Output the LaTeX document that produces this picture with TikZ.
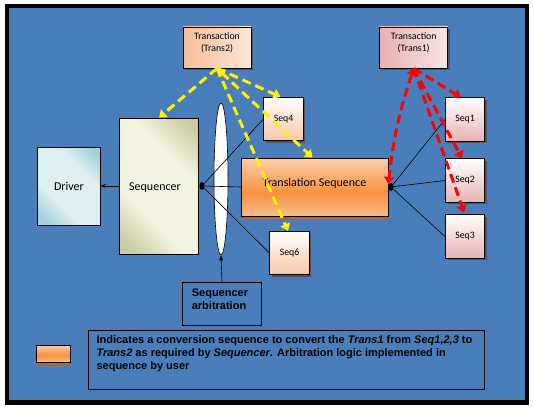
\documentclass[tikz,border=0pt]{standalone}
\usepackage{fontspec}
\setmainfont{Carlito}
\newfontfamily\arialfont{Liberation Sans}
\usetikzlibrary{arrows.meta,shapes.geometric,shadows}

\definecolor{bgblue}{RGB}{74,126,187}
\definecolor{seqlight}{RGB}{242,244,224}
\definecolor{seqdark}{RGB}{204,204,164}
\definecolor{drvlight}{RGB}{221,239,239}
\definecolor{drvdark}{RGB}{166,207,218}
\definecolor{tpeachdark}{RGB}{247,191,155}
\definecolor{tpeachlight}{RGB}{253,230,216}
\definecolor{tpinkdark}{RGB}{234,176,178}
\definecolor{tpinklight}{RGB}{249,230,230}
\definecolor{speach}{RGB}{249,198,166}
\definecolor{spink}{RGB}{232,178,178}
\definecolor{tstop}{RGB}{251,207,168}
\definecolor{tsmid}{RGB}{246,146,63}
\definecolor{tsbot}{RGB}{249,187,138}
\definecolor{shadowgray}{RGB}{78,82,100}
\definecolor{tsshadow}{RGB}{181,101,45}

\pgfdeclarehorizontalshading{seqband}{100bp}{color(0bp)=(seqdark); color(20bp)=(seqdark); color(36bp)=(seqlight); color(64bp)=(seqlight); color(80bp)=(seqdark); color(100bp)=(seqdark)}
\pgfdeclarehorizontalshading{drvband}{100bp}{color(0bp)=(drvdark); color(20bp)=(drvdark); color(36bp)=(drvlight); color(64bp)=(drvlight); color(80bp)=(drvdark); color(100bp)=(drvdark)}
\pgfdeclareverticalshading{tsshade}{100bp}{color(0bp)=(tsbot); color(25bp)=(tsbot); color(45bp)=(tsmid); color(75bp)=(tstop); color(100bp)=(tstop)}

\begin{document}
\begin{tikzpicture}[x=1pt,y=-1pt,
	box/.style={draw,line width=0.7pt,inner sep=0pt},
	small/.style={font=\fontsize{9.8}{12}\selectfont},
	big/.style={font=\fontsize{12}{14}\selectfont},
	note/.style={font=\arialfont\bfseries\fontsize{11}{12.8}\selectfont},
	shadow/.style={drop shadow={shadow xshift=2pt,shadow yshift=-2pt,fill=shadowgray,opacity=1}},
	orshadow/.style={drop shadow={shadow xshift=1pt,shadow yshift=-2.5pt,fill=tsshadow,opacity=1}},
	trans/.style={box,shadow,shade,shading angle=45,minimum width=68pt,minimum height=41pt},
	seqbox/.style={box,shadow,small,minimum width=39.5pt,minimum height=43.5pt},
	link/.style={line width=0.6pt},
	yarrow/.style={yellow,line width=3pt,dash pattern=on 9pt off 5pt,-{Triangle[width=10pt,length=7pt]}},
	rarrow/.style={red,line width=3pt,dash pattern=on 9pt off 5pt,-{Triangle[width=10pt,length=7pt]}}
]
	\useasboundingbox (0,0) rectangle (534,409);
	\fill[white] (0,0) rectangle (534,409);
	\fill[black] (5,4) rectangle (529,405);
	\fill[bgblue] (9,8) rectangle (525,400);

	% transactions
	\node[trans,left color=tpeachdark,right color=tpeachlight,label={[small,align=center,yshift=4.5pt]center:Transaction\\(Trans2)}] (trans2) at (217,47.5) {};
	\node[trans,left color=tpinkdark,right color=tpinklight,label={[small,align=center,yshift=4.5pt]center:Transaction\\(Trans1)}] (trans1) at (413.7,47.5) {};

	% driver and sequencer
	\node[box,shade,shading=drvband,shading angle=45,big,minimum width=63pt,minimum height=78pt] (driver) at (69,186) {Driver};
	\node[box,shade,shading=seqband,shading angle=45,big,minimum width=79pt,minimum height=136pt,label={[big,xshift=-4pt,yshift=-2pt]center:Sequencer}] (sequencer) at (159,186) {};
	\node[ellipse,draw,fill=white,line width=0.6pt,inner sep=0pt,minimum width=14pt,minimum height=152pt] (lens) at (221,179) {};

	% sequences
	\node[seqbox,top color=white,bottom color=speach] (seq4) at (283.5,119) {Seq4};
	\node[seqbox,top color=white,bottom color=speach] (seq6) at (289.5,253) {Seq6};
	\node[seqbox,top color=white,bottom color=spink] (seq1) at (465,119.5) {Seq1};
	\node[seqbox,top color=white,bottom color=spink] (seq2) at (465,180.5) {Seq2};
	\node[seqbox,top color=white,bottom color=spink] (seq3) at (465,236.5) {Seq3};
	\node[box,orshadow,shade,shading=tsshade,minimum width=147pt,minimum height=58pt,label={[big,yshift=3.5pt]center:Translation Sequence}] (ts) at (314.5,187) {};

	% arbitration and note
	\node[box,minimum width=79pt,minimum height=43pt,label={[note,align=left,anchor=west,inner sep=0pt,xshift=9.5pt,yshift=4pt]west:Sequencer\\arbitration}] (arbbox) at (222,303.5) {};
	\node[box,orshadow,shade,shading=tsshade,minimum width=33.5pt,minimum height=17pt] (legend) at (53.3,353.5) {};
	\node[box,minimum width=396pt,minimum height=59pt,label={[note,align=left,anchor=north west,inner sep=0pt,xshift=8.2pt,yshift=-6pt]north west:Indicates a conversion sequence to convert the \textit{Trans1} from \textit{Seq1,2,3} to\\\textit{Trans2} as required by \textit{Sequencer}. Arbitration logic implemented in\\sequence by user}] (notebox) at (286.5,359.5) {};

	% joints
	\node[ellipse,fill=black,inner sep=0pt,minimum width=5pt,minimum height=8pt] (dotL) at (202,186) {};
	\node[ellipse,fill=black,inner sep=0pt,minimum width=5pt,minimum height=8pt] (dotR) at (391,187) {};

	\draw[link,-{Stealth[length=5pt,width=4pt]}] (sequencer.west) -- (driver.east);
	\draw[link] (dotL.center) -- (seq4.west);
	\draw[link] (dotL.center) -- (ts.west);
	\draw[link] (dotL.center) -- (seq6.west);
	\draw[link] (dotR.center) -- (seq1.west);
	\draw[link] (dotR.center) -- (seq2.west);
	\draw[link] (dotR.center) -- (seq3.west);
	\draw[link,-{Triangle[length=5pt,width=4pt]}] (arbbox.north) -- (lens.south);

	% transaction flow
	\draw[yarrow] (trans2.south) -- (sequencer.north);
	\draw[yarrow] (trans2.south) -- ([xshift=-3pt]seq4.north);
	\draw[yarrow,{Triangle[width=10pt,length=7pt]}-{Triangle[width=10pt,length=7pt]}] (trans2.south) -- ([xshift=-2pt]ts.north);
	\draw[yarrow] (trans2.south) -- ([xshift=-1.5pt]seq6.north);
	\draw[rarrow] (trans1.south) -- ([xshift=-4pt]seq1.north);
	\draw[rarrow] (trans1.south) -- ([xshift=-3pt]seq2.north);
	\draw[rarrow] (trans1.south) -- ([xshift=-1pt,yshift=2pt]seq3.north);
	\draw[rarrow,{Triangle[width=10pt,length=7pt]}-{Triangle[width=10pt,length=7pt]}] (trans1.south) to[bend right=6] ([yshift=3pt]ts.east);
\end{tikzpicture}
\end{document}
